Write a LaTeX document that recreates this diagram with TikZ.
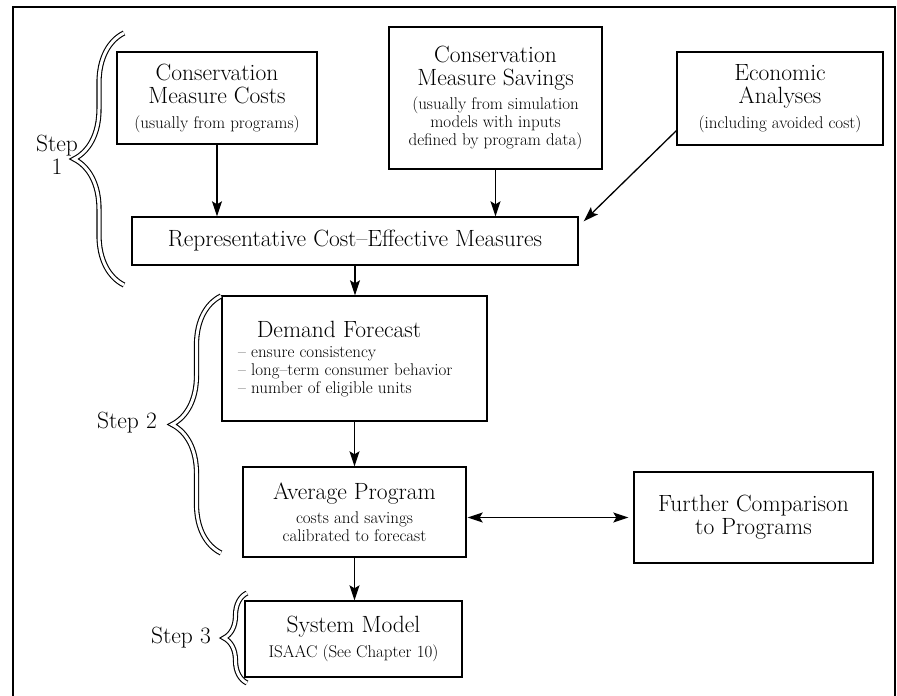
\documentclass[tikz,border=0pt]{standalone}
\usetikzlibrary{arrows.meta,decorations.pathreplacing,calc}
\newcommand\ttlf{\fontsize{23.5}{23}\selectfont}
\newcommand\subf{\fontsize{17}{18}\selectfont}
\begin{document}
\begin{tikzpicture}[x=1pt,y=-1pt,
  >={Stealth[length=15pt,width=10pt,inset=3pt]},
  box/.style={draw, line width=1.4pt, align=center, inner sep=2pt, font=\ttlf},
  arr/.style={line width=1.3pt, ->},
  brc/.style={decorate, decoration={brace, amplitude=#1}, draw, line width=1.1pt, double=white, double distance=3pt},
  stepl/.style={font=\ttlf, align=center}]
\useasboundingbox (0,0) rectangle (897,696);
\draw[line width=1.2pt] (13,696) -- (13,7) -- (895,7) -- (895,696);

\node[box, minimum width=200pt, minimum height=92pt] (costs) at (217,98)
  {Conservation\\Measure Costs\\[2pt]\subf (usually from programs)};
\node[box, minimum width=213pt, minimum height=142pt] (sav) at (495.5,98)
  {Conservation\\Measure Savings\\[1pt]\subf (usually from simulation\\[-5pt]\subf models with inputs\\[-5pt]\subf defined by program data)};
\node[box, minimum width=206pt, minimum height=93pt] (econ) at (780,98.5)
  {Economic\\Analyses\\[2pt]\subf (including avoided cost)};
\node[box, minimum width=446pt, minimum height=48pt] (rcem) at (355,241)
  {Representative Cost--Effective Measures};
\node[box, minimum width=265pt, minimum height=125pt] (df) at (354.5,358.5) {};
\node[font=\ttlf, inner sep=0pt] (dft) at (339,329) {Demand Forecast};
\node[font=\subf, align=left, anchor=north west, inner sep=0pt] (dfl) at (238,346)
  {-- ensure consistency\\-- long--term consumer behavior\\-- number of eligible units};
\node[box, minimum width=223pt, minimum height=90pt] (ap) at (354.5,512)
  {Average Program\\[1pt]\subf costs and savings\\[-5pt]\subf calibrated to forecast};
\node[box, minimum width=217pt, minimum height=76pt] (sm) at (353.5,639)
  {System Model\\[2pt]\subf ISAAC (See Chapter 10)};
\node[box, minimum width=239pt, minimum height=91pt] (fc) at (753.5,517.5)
  {Further Comparison\\to Programs};

\node[stepl] (s1) at (57,155) {Step\\1};
\node[stepl] (s2) at (127,423) {Step 2};
\node[stepl] (s3) at (181,638) {Step 3};

\draw[brc=50pt] (124,285) -- (124,33);
\draw[brc=49pt] (221,553) -- (221,296);
\draw[brc=23pt] (247,683) -- (247,593);

\draw[arr] (costs.south) -- (costs.south |- rcem.north);
\draw[arr] (sav.south) -- (sav.south |- rcem.north);
\draw[arr] ($(econ.south west)+(0,-15)$) -- ($(rcem.north east)+(5,5)$);
\draw[arr] (rcem.south) -- (rcem.south |- df.north);
\draw[arr] (df.south) -- (df.south |- ap.north);
\draw[arr] (ap.south) -- (ap.south |- sm.north);
\draw[line width=1.3pt, <->, shorten >=5pt, shorten <=1pt]
  (ap.east |- fc.west) -- (fc.west);
\end{tikzpicture}
\end{document}
